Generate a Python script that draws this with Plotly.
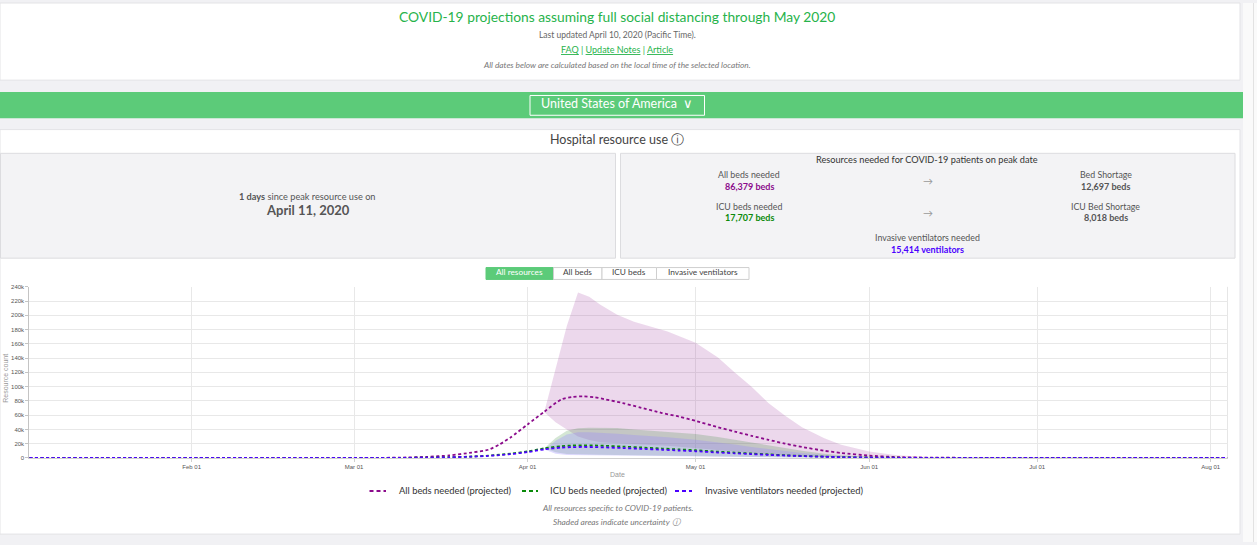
import plotly.graph_objects as go

W, H = 1257, 545

# ---------------- data (values in thousands) ----------------
line_dates = ["2020-01-03", "2020-03-05", "2020-03-09", "2020-03-14", "2020-03-18", "2020-03-22",
              "2020-03-25", "2020-03-27", "2020-03-29", "2020-04-01", "2020-04-04", "2020-04-07",
              "2020-04-09", "2020-04-11", "2020-04-13", "2020-04-15", "2020-04-18", "2020-04-21",
              "2020-04-25", "2020-04-28", "2020-05-01", "2020-05-05", "2020-05-08", "2020-05-11",
              "2020-05-14", "2020-05-17", "2020-05-20", "2020-05-24", "2020-05-27", "2020-06-01",
              "2020-06-06", "2020-06-12", "2020-06-20", "2020-07-01", "2020-08-04"]
all_beds_k = [0, 0.1, 0.4, 1.5, 3.5, 7.5, 11.5, 19, 29, 47, 65, 82, 85.5, 86.4, 85, 82, 77, 71,
              63, 58, 52, 43, 37, 31, 25.5, 20, 15.5, 10, 7, 3.2, 1.2, 0.4, 0.15, 0.05, 0]
icu_beds_k = [0, 0.05, 0.1, 0.4, 1, 2, 3.2, 4.5, 6, 9.2, 13.5, 16.5, 17.4, 17.7, 17.5, 17, 16,
              14.8, 13.2, 12, 10.8, 8.8, 7.5, 6.2, 5, 3.8, 2.9, 1.8, 1.2, 0.6, 0.25, 0.1, 0.03, 0, 0]
ventilators_k = [0, 0.04, 0.09, 0.35, 0.9, 1.8, 2.9, 4, 5.3, 8.3, 12, 14.5, 15.2, 15.4, 15.2, 14.7,
                 13.9, 12.9, 11.5, 10.4, 9.4, 7.6, 6.5, 5.4, 4.3, 3.3, 2.5, 1.6, 1.0, 0.5, 0.2,
                 0.08, 0.02, 0, 0]

band_dates = ["2020-04-04", "2020-04-06", "2020-04-08", "2020-04-10", "2020-04-12", "2020-04-14",
              "2020-04-17", "2020-04-20", "2020-04-23", "2020-04-26", "2020-05-01", "2020-05-05",
              "2020-05-08", "2020-05-11", "2020-05-14", "2020-05-17", "2020-05-20", "2020-05-24",
              "2020-05-27", "2020-06-01", "2020-06-06", "2020-06-12", "2020-06-20", "2020-07-01",
              "2020-08-04"]
all_beds_upper_k = [65, 125, 185, 232, 226, 215, 201, 191, 184, 177.5, 161.6, 141, 120, 100, 77,
                    59, 43, 27.7, 18.5, 9.2, 3.7, 1, 0.2, 0, 0]
all_beds_lower_k = [64, 50, 40, 30, 25, 22, 20, 19, 18, 17, 14, 11, 9, 7, 5, 3.5, 2.2, 1.2, 0.8,
                    0.3, 0.15, 0.1, 0.05, 0, 0]
icu_upper_k = [13.5, 28, 38, 41.5, 42.5, 42.5, 42, 40, 38.5, 37, 33.5, 29.5, 25.5, 21.5, 17.5,
               13.5, 10, 6, 3.8, 1.8, 0.7, 0.25, 0.05, 0, 0]
icu_lower_k = [13.5, 8, 5.5, 4.8, 4.5, 4.3, 4.1, 4, 3.8, 3.5, 3, 2.6, 2.2, 1.8, 1.4, 1.1, 0.8,
               0.5, 0.35, 0.2, 0.1, 0.05, 0, 0, 0]
vent_upper_k = [12, 24, 33, 36, 36, 35.5, 34, 32, 30.5, 29, 25.4, 22, 19, 15.5, 12.5, 9.5, 7, 4,
                2.5, 1.2, 0.45, 0.15, 0.03, 0, 0]
vent_lower_k = [12, 6, 4, 3.5, 3.3, 3.2, 3.1, 3, 2.8, 2.6, 2.2, 1.9, 1.6, 1.3, 1.0, 0.8, 0.55,
                0.35, 0.25, 0.15, 0.07, 0.03, 0, 0, 0]

x_tick_vals = ["2020-02-01", "2020-03-01", "2020-04-01", "2020-05-01", "2020-06-01",
               "2020-07-01", "2020-08-01"]
x_tick_text = ["Feb 01", "Mar 01", "Apr 01", "May 01", "Jun 01", "Jul 01", "Aug 01"]
y_tick_vals = [0, 20, 40, 60, 80, 100, 120, 140, 160, 180, 200, 220, 240]
y_tick_text = ["0", "20k", "40k", "60k", "80k", "100k", "120k", "140k", "160k", "180k",
               "200k", "220k", "240k"]

series_names = ["All beds needed (projected)", "ICU beds needed (projected)",
                "Invasive ventilators needed (projected)"]
series_colors = ["#8b0a8b", "#0a8a0a", "#4b00ff"]
band_colors = ["rgba(150,40,150,0.18)", "rgba(40,130,40,0.2)", "rgba(150,134,255,0.3)"]

peak_values = ["86,379 beds", "17,707 beds", "15,414 ventilators"]
shortage_values = ["12,697 beds", "8,018 beds"]

FONT = "Lato"
TXT_SHIFT = -1.5

# ---------------- helpers (pixel -> paper) ----------------
def px(x):
    return x / W


def py(y):
    return 1 - y / H


shapes = []
annotations = []


def rect(x0, y0, x1, y1, fill, line=None, lw=1):
    shapes.append(dict(type="rect", xref="paper", yref="paper", x0=px(x0), x1=px(x1),
                       y0=py(y1), y1=py(y0), fillcolor=fill,
                       line=dict(color=line or "rgba(0,0,0,0)", width=lw if line else 0),
                       layer="below"))


def hline(x0, x1, y, color, width=1, dash="solid", layer="below"):
    shapes.append(dict(type="line", xref="paper", yref="paper", x0=px(x0), x1=px(x1),
                       y0=py(y), y1=py(y), line=dict(color=color, width=width, dash=dash),
                       layer=layer))


def vline(x, y0, y1, color, width=1):
    shapes.append(dict(type="line", xref="paper", yref="paper", x0=px(x), x1=px(x),
                       y0=py(y0), y1=py(y1), line=dict(color=color, width=width), layer="below"))


def txt(x, y, text, size=9, color="#555", xanchor="center", family=FONT, angle=0):
    annotations.append(dict(x=px(x), y=py(y + TXT_SHIFT), xref="paper", yref="paper", text=text,
                            showarrow=False, xanchor=xanchor, yanchor="middle", textangle=angle,
                            font=dict(size=size, color=color, family=family)))


# ---------------- page chrome ----------------
rect(0, 0, 1240, 78, "white", "#e3e3e6")
rect(0, 90, 1250, 116.5, "#5ccb79")
rect(530, 93.5, 704.5, 113.5, "rgba(0,0,0,0)", "white", 1)
rect(0, 128, 1240, 537, "white", "#e3e3e6")
rect(1243, 0, 1257, 545, "#fafafa")
vline(1253.5, 0, 545, "#e2e2e2", 1)

GREEN = "#27b34b"
txt(617, 15.5, "COVID-19 projections assuming full social distancing through May 2020", 13.8, GREEN)
txt(617, 33.5, "Last updated April 10, 2020 (Pacific Time).", 8.5, "#666")
txt(617, 49, "<u>FAQ</u> | <u>Update Notes</u> | <u>Article</u>", 9, GREEN)
txt(617, 64.5, "<i>All dates below are calculated based on the local time of the selected location.</i>",
    8.3, "#777")
txt(617, 103.5, "United States of America  \u2228", 12.5, "white")

txt(617, 140, "Hospital resource use \u24d8", 12.5, "#444")

# left info box
rect(0.5, 152, 615.5, 258, "#f3f3f5", "#dcdcdf")
txt(307, 197.5, "<b>1 days</b> since peak resource use on", 9.2, "#555")
txt(308, 211, "<b>April 11, 2020</b>", 13, "#555")

# right info box
rect(620.5, 152, 1235, 258, "#f3f3f5", "#dcdcdf")
txt(927, 160, "Resources needed for COVID-19 patients on peak date", 9.2, "#333")
txt(749, 175, "All beds needed", 8.8, "#555")
txt(749, 187, "<b>" + peak_values[0] + "</b>", 9, series_colors[0])
txt(927.5, 181.5, "\u2192", 10, "#999")
txt(1105.5, 175, "Bed Shortage", 8.8, "#555")
txt(1105.5, 187, "<b>" + shortage_values[0] + "</b>", 9, "#555")
txt(749, 207, "ICU beds needed", 8.8, "#555")
txt(749, 218.5, "<b>" + peak_values[1] + "</b>", 9, series_colors[1])
txt(927.5, 213.5, "\u2192", 10, "#999")
txt(1105.5, 207, "ICU Bed Shortage", 8.8, "#555")
txt(1105.5, 218.5, "<b>" + shortage_values[1] + "</b>", 9, "#555")
txt(927, 239, "Invasive ventilators needed", 8.8, "#555")
txt(927, 251, "<b>" + peak_values[2] + "</b>", 9, series_colors[2])

# button group
buttons = [("All resources", 486, 553.5), ("All beds", 553.5, 602), ("ICU beds", 602, 656.5),
           ("Invasive ventilators", 656.5, 749)]
for i, (lab, a, b) in enumerate(buttons):
    if i == 0:
        rect(a, 267.5, b, 279.5, "#5ccb79", "#5ccb79")
        txt((a + b) / 2, 273.5, lab, 8.3, "white")
    else:
        rect(a, 267.5, b, 279.5, "white", "#cfcfcf")
        txt((a + b) / 2, 273.5, lab, 8.3, "#444")

# chart border on right
vline(1227.5, 287, 460, "#e6e6e6", 1)

# axis titles
txt(6, 381.5, "Resource count", 7, "#999", family="Liberation Sans", angle=-90)
txt(617, 478.5, "Date", 7, "#999", family="Liberation Sans")

# manual legend
leg = [(369.5, 386, 397, series_names[0]), (522, 538, 547.5, series_names[1]),
       (675, 692, 703, series_names[2])]
for (a, b, t, name), col in zip(leg, series_colors):
    hline(a, b, 493.5, col, 2, "4px,3px", layer="above")
    txt(t, 494.5, name, 9.4, "#333", xanchor="left")

txt(617, 512, "<i>All resources specific to COVID-19 patients.</i>", 8.3, "#777")
txt(617, 526, "<i>Shaded areas indicate uncertainty \u24d8</i>", 8.3, "#777")

# ---------------- traces ----------------
fig = go.Figure()
bands = [(all_beds_upper_k, all_beds_lower_k), (icu_upper_k, icu_lower_k),
         (vent_upper_k, vent_lower_k)]
for (up, lo), fc, name in zip(bands, band_colors, series_names):
    fig.add_trace(go.Scatter(x=band_dates + band_dates[::-1], y=up + lo[::-1], fill="toself",
                             fillcolor=fc, line=dict(width=0), mode="lines",
                             hoverinfo="skip", showlegend=False, name=name + " uncertainty"))

for vals, col, name in zip([all_beds_k, icu_beds_k, ventilators_k], series_colors, series_names):
    fig.add_trace(go.Scatter(x=line_dates, y=vals, mode="lines", name=name, showlegend=False,
                             line=dict(color=col, width=1.8, dash="3px,2.5px", shape="spline",
                                       smoothing=0.6)))

fig.update_layout(
    width=W, height=H, margin=dict(l=0, r=0, t=0, b=0),
    paper_bgcolor="#f1f1f4", plot_bgcolor="rgba(0,0,0,0)",
    shapes=shapes, annotations=annotations, showlegend=False,
    font=dict(family=FONT),
    xaxis=dict(domain=[px(29.3), px(1227.5)], range=["2020-01-03", "2020-08-04"], type="date",
               tickvals=x_tick_vals, ticktext=x_tick_text,
               tickfont=dict(size=6, color="#555", family="Liberation Sans"),
               showgrid=True, gridcolor="#e8e8e8", gridwidth=1, zeroline=False,
               showline=True, linecolor="#d0d0d0", ticks="outside", ticklen=3,
               tickcolor="#d0d0d0"),
    yaxis=dict(domain=[py(460), py(287)], range=[0, 240], tickvals=y_tick_vals,
               ticktext=y_tick_text,
               tickfont=dict(size=6, color="#555", family="Liberation Sans"),
               showgrid=True, gridcolor="#e8e8e8", gridwidth=1, zeroline=False,
               showline=True, linecolor="#c4c4c4", ticks="outside", ticklen=3,
               tickcolor="#c4c4c4"),
)

fig.write_html("out.html", config={"displayModeBar": False},
               post_script="document.body.style.margin='0';")
